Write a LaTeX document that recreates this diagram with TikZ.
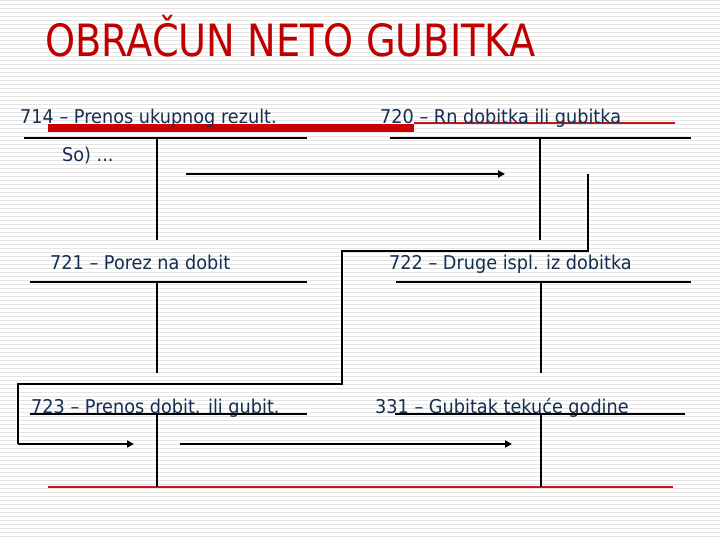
\documentclass[tikz,border=0pt]{standalone}
\usepackage{fontspec}
\usetikzlibrary{arrows.meta}
\newfontfamily\lblfont[FakeStretch=0.93]{DejaVu Sans}
\newfontfamily\ttlfont[FakeStretch=0.86]{DejaVu Sans}
\definecolor{ttlred}{RGB}{192,0,0}
\definecolor{barred}{RGB}{204,0,0}
\definecolor{thinred}{RGB}{200,20,20}
\definecolor{navy}{RGB}{20,45,80}
\definecolor{stripe}{RGB}{228,228,228}
\tikzset{
  lbl/.style={anchor=base west, inner sep=0pt, text=navy, font=\lblfont\fontsize{19}{21}\selectfont},
  acct/.style={line width=1.2pt, black},
  conn/.style={line width=1.5pt, black},
  arr/.style={line width=2.2pt, black, -{Triangle[length=7pt,width=7pt]}},
  redline/.style={thinred, line width=1.3pt},
}
\begin{document}
\begin{tikzpicture}[x=1pt,y=-1pt]
\useasboundingbox (0,0) rectangle (720,540);
\fill[white] (0,0) rectangle (720,540);
\foreach \k in {0,...,134} \draw[stripe, line width=1.3pt] (0,4*\k+0.75) -- (720,4*\k+0.75);

% title
\node[anchor=base west, inner sep=0pt, text=ttlred, font=\ttlfont\fontsize{44.5}{48}\selectfont] (title) at (45,57) {OBRAČUN NETO GUBITKA};

% red bars
\draw[redline] (414,123) -- (675,123);
\draw[barred, line width=8pt] (48,128) -- (414,128);
\draw[redline] (48,487) -- (673,487);

% labels
\node[lbl] (l714) at (20,124) {714 – Prenos ukupnog rezult.};
\node[lbl] (l720) at (380,124) {720 – Rn dobitka ili gubitka};
\node[lbl] (so) at (62,162) {So) ...};
\node[lbl] (l721) at (50,269) {721 – Porez na dobit};
\node[lbl] (l722) at (389,269) {722 – Druge ispl. iz dobitka};
\node[lbl] (l723) at (31,413) {723 – Prenos dobit. ili gubit.};
\node[lbl] (l331) at (375,413) {331 – Gubitak tekuće godine};

% T-accounts
\draw[acct] (24,138) -- (307,138) (157,138) -- (157,240);
\draw[acct] (390,138) -- (691,138) (540,138) -- (540,240);
\draw[acct] (30,282) -- (307,282) (157,282) -- (157,373);
\draw[acct] (396,282) -- (691,282) (541,282) -- (541,373);
\draw[acct] (30,414) -- (307,414) (157,414) -- (157,487);
\draw[acct] (395,414) -- (685,414) (541,414) -- (541,487);

% arrows and connectors
\coordinate (a1s) at (186,174);
\coordinate (a1m) at (323,174);
\coordinate (a1e) at (505,174);
\draw[line width=1.4pt] (a1s) -- (a1m);
\draw[arr] (a1m) -- (a1e);

\coordinate (c0) at (588,174);
\coordinate (c1) at (588,251);
\coordinate (c2) at (342,251);
\coordinate (c3) at (342,384);
\coordinate (c4) at (18,384);
\coordinate (c5) at (18,444);
\coordinate (c6) at (134,444);
\draw[conn] (c0) -- (c1) -- (c2) -- (c3) -- (c4) -- (c5);
\draw[arr] (c5) -- (c6);

\coordinate (a2s) at (180,444);
\coordinate (a2e) at (512,444);
\draw[arr] (a2s) -- (a2e);
\end{tikzpicture}
\end{document}
